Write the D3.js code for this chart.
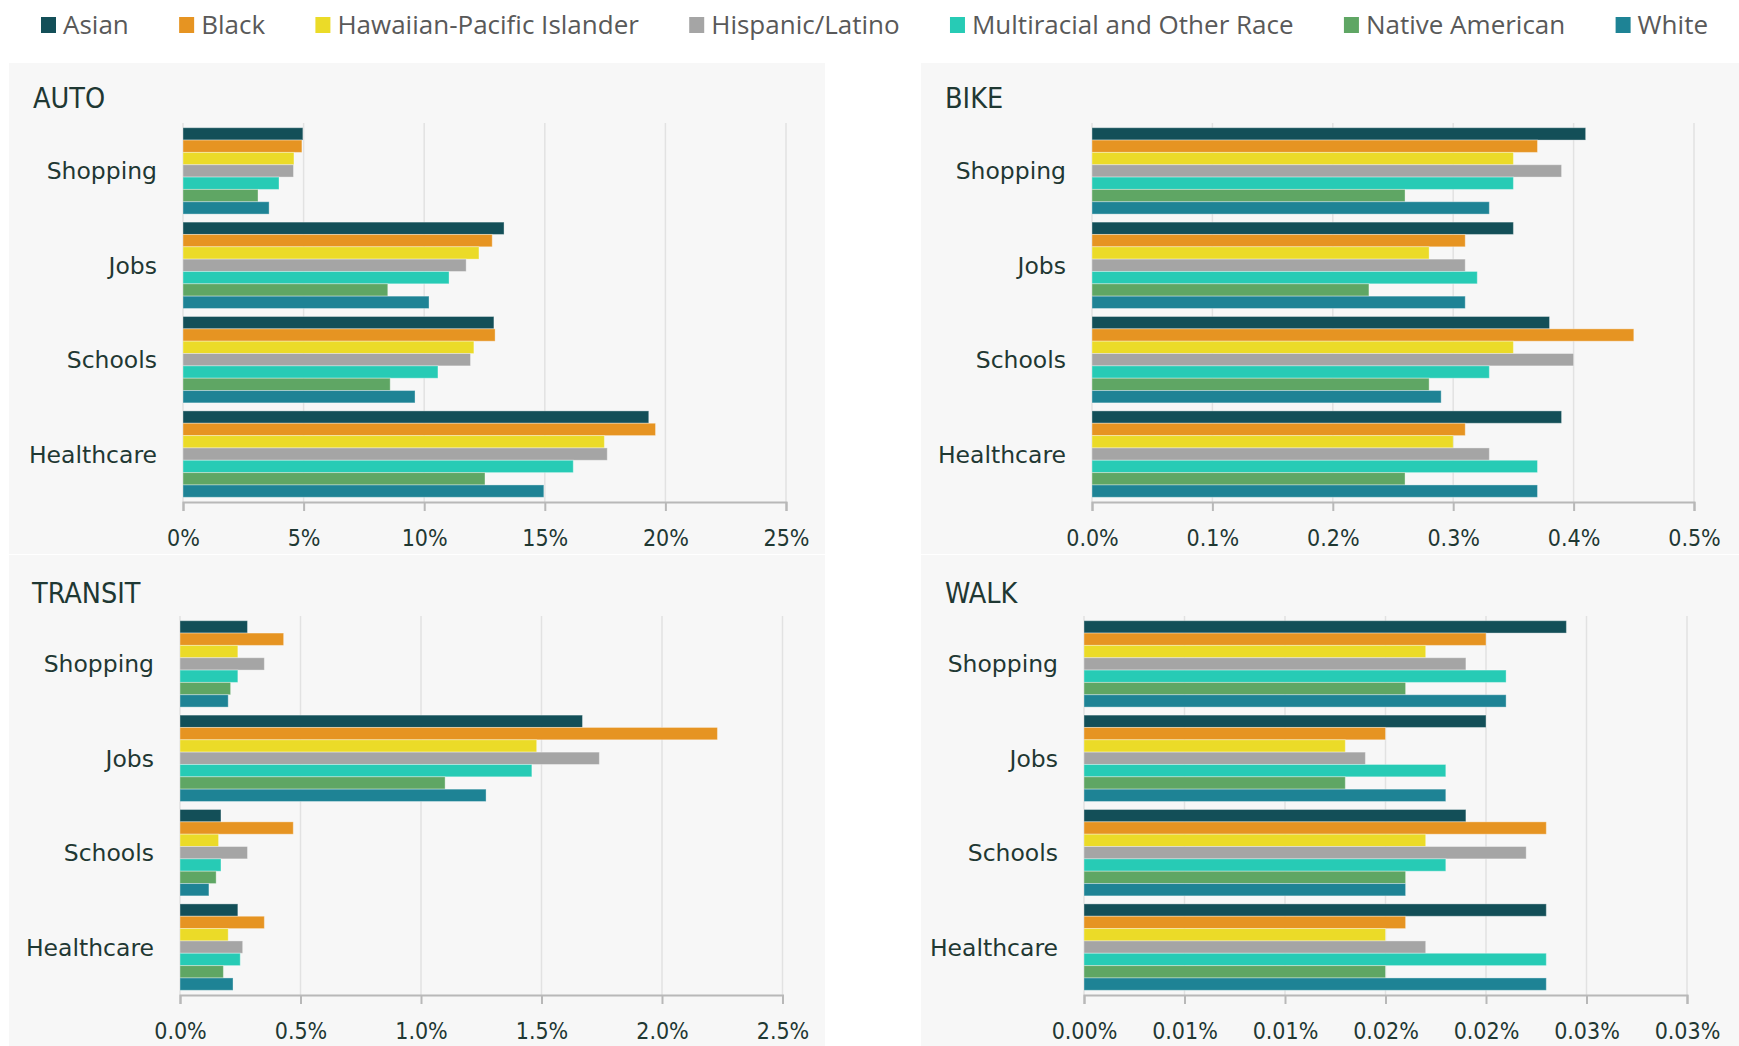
<!DOCTYPE html>
<html>
<head>
<meta charset="utf-8">
<script src="https://cdn.jsdelivr.net/npm/d3@7"></script>
<style>
  body { margin: 0; background: #fff; }
  svg { display: block; }
  .panel-text { fill: #1f3833; }
  .cond { font-family: 'DejaVu Sans Condensed', 'DejaVu Sans', sans-serif; }
  .wide { font-family: 'DejaVu Sans', sans-serif; }
  .legend-text { font-family: 'Open Sans', 'Noto Sans', sans-serif; fill: #595959; }
</style>
</head>
<body>
<svg id="chart" width="1739" height="1046"></svg>
<script>
// Data (percent of population with access)
const categories = ['Shopping', 'Jobs', 'Schools', 'Healthcare'];
const races = ['Asian', 'Black', 'Hawaiian-Pacific Islander', 'Hispanic/Latino',
  'Multiracial and Other Race', 'Native American', 'White'];
const raceColors = ['#134f58', '#e69422', '#ebdb28', '#a5a5a5', '#27cbb5', '#5fa664', '#1e8395'];

// each row = one category, columns follow races order
const autoValues = [
  [4.97, 4.93, 4.60, 4.58, 3.98, 3.11, 3.57],
  [13.31, 12.82, 12.27, 11.74, 11.03, 8.49, 10.20],
  [12.89, 12.94, 12.06, 11.92, 10.57, 8.59, 9.62],
  [19.31, 19.59, 17.47, 17.59, 16.18, 12.52, 14.96]
];
const bikeValues = [
  [0.41, 0.37, 0.35, 0.39, 0.35, 0.26, 0.33],
  [0.35, 0.31, 0.28, 0.31, 0.32, 0.23, 0.31],
  [0.38, 0.45, 0.35, 0.40, 0.33, 0.28, 0.29],
  [0.39, 0.31, 0.30, 0.33, 0.37, 0.26, 0.37]
];
const transitValues = [
  [0.28, 0.43, 0.24, 0.35, 0.24, 0.21, 0.20],
  [1.67, 2.23, 1.48, 1.74, 1.46, 1.10, 1.27],
  [0.17, 0.47, 0.16, 0.28, 0.17, 0.15, 0.12],
  [0.24, 0.35, 0.20, 0.26, 0.25, 0.18, 0.22]
];
const walkValues = [
  [0.0240, 0.0200, 0.0170, 0.0190, 0.0210, 0.0160, 0.0210],
  [0.0200, 0.0150, 0.0130, 0.0140, 0.0180, 0.0130, 0.0180],
  [0.0190, 0.0230, 0.0170, 0.0220, 0.0180, 0.0160, 0.0160],
  [0.0230, 0.0160, 0.0150, 0.0170, 0.0230, 0.0150, 0.0230]
];

// Axis ticks
const autoTicks = [0, 5, 10, 15, 20, 25];
const autoTickLabels = ['0%', '5%', '10%', '15%', '20%', '25%'];
const bikeTicks = [0, 0.1, 0.2, 0.3, 0.4, 0.5];
const bikeTickLabels = ['0.0%', '0.1%', '0.2%', '0.3%', '0.4%', '0.5%'];
const transitTicks = [0, 0.5, 1, 1.5, 2, 2.5];
const transitTickLabels = ['0.0%', '0.5%', '1.0%', '1.5%', '2.0%', '2.5%'];
const walkTicks = [0, 0.005, 0.01, 0.015, 0.02, 0.025, 0.03];
const walkTickLabels = ['0.00%', '0.01%', '0.01%', '0.02%', '0.02%', '0.03%', '0.03%'];

const panels = [
  { title: 'AUTO', values: autoValues, ticks: autoTicks, tickLabels: autoTickLabels,
    bg: [9, 63, 816, 491], titleX: 33, titleY: 108, x0: 183, x1: 786, y0: 123, y1: 502, labelX: 157 },
  { title: 'BIKE', values: bikeValues, ticks: bikeTicks, tickLabels: bikeTickLabels,
    bg: [921, 63, 818, 491], titleX: 945, titleY: 108, x0: 1092, x1: 1694, y0: 123, y1: 502, labelX: 1066 },
  { title: 'TRANSIT', values: transitValues, ticks: transitTicks, tickLabels: transitTickLabels,
    bg: [9, 555, 816, 491], titleX: 32, titleY: 603, x0: 180, x1: 782.5, y0: 616, y1: 995, labelX: 154 },
  { title: 'WALK', values: walkValues, ticks: walkTicks, tickLabels: walkTickLabels,
    bg: [921, 555, 818, 491], titleX: 945, titleY: 603, x0: 1084, x1: 1687, y0: 616, y1: 995, labelX: 1058 }
];

const svg = d3.select('#chart');
const color = d3.scaleOrdinal().domain(races).range(raceColors);

// Legend
const legend = svg.append('g');
const items = legend.selectAll('g').data(races).enter().append('g');
items.append('rect')
  .attr('width', 15).attr('height', 16)
  .attr('y', 17)
  .attr('fill', d => color(d));
items.append('text')
  .attr('class', 'legend-text')
  .attr('x', 22).attr('y', 25)
  .attr('dy', '0.35em')
  .style('font-size', '26px')
  .text(d => d);

const widths = [];
items.each(function() { widths.push(this.querySelector('text').getComputedTextLength() + 22); });
const legendStart = 41, legendEnd = 1708;
const gap = (legendEnd - legendStart - d3.sum(widths)) / (races.length - 1);
let lx = legendStart;
items.attr('transform', (d, i) => {
  const t = `translate(${lx},0)`;
  lx += widths[i] + gap;
  return t;
});

// Panels
panels.forEach(p => {
  const g = svg.append('g');

  g.append('rect')
    .attr('x', p.bg[0]).attr('y', p.bg[1])
    .attr('width', p.bg[2]).attr('height', p.bg[3])
    .attr('fill', '#f7f7f7');

  g.append('text')
    .attr('class', 'panel-text cond')
    .attr('x', p.titleX).attr('y', p.titleY)
    .style('font-size', '28.5px')
    .text(p.title);

  const x = d3.scaleLinear()
    .domain([0, p.ticks[p.ticks.length - 1]])
    .range([p.x0, p.x1]);

  const y = d3.scaleBand()
    .domain(categories)
    .range([p.y0, p.y1])
    .paddingInner(0.085)
    .paddingOuter(0.05);

  const yInner = d3.scaleBand()
    .domain(races)
    .range([0, y.bandwidth()]);

  // gridlines
  g.append('g')
    .selectAll('line')
    .data(p.ticks)
    .enter()
    .append('line')
    .attr('x1', d => x(d)).attr('x2', d => x(d))
    .attr('y1', p.y0).attr('y2', p.y1)
    .attr('stroke', '#e2e2e2')
    .attr('stroke-width', 1.5);

  // bars
  const groups = g.append('g')
    .selectAll('g')
    .data(categories)
    .enter()
    .append('g')
    .attr('transform', d => `translate(0,${y(d)})`);

  groups.selectAll('rect')
    .data((d, i) => p.values[i].map((v, j) => ({ race: races[j], value: v })))
    .enter()
    .append('rect')
    .attr('x', x(0))
    .attr('y', d => yInner(d.race))
    .attr('width', d => x(d.value) - x(0))
    .attr('height', yInner.bandwidth())
    .attr('fill', d => color(d.race))
    .attr('stroke', 'rgba(255,255,255,0.35)')
    .attr('stroke-width', 1);

  // category labels
  g.append('g')
    .selectAll('text')
    .data(categories)
    .enter()
    .append('text')
    .attr('class', 'panel-text wide')
    .attr('x', p.labelX)
    .attr('y', d => y(d) + y.bandwidth() / 2)
    .attr('dy', '0.36em')
    .attr('text-anchor', 'end')
    .style('font-size', '23.5px')
    .text(d => d);

  // x axis
  const axis = g.append('g')
    .attr('transform', `translate(0,${p.y1})`)
    .call(d3.axisBottom(x)
      .tickValues(p.ticks)
      .tickFormat((d, i) => p.tickLabels[i])
      .tickSize(9)
      .tickPadding(18.5));

  axis.select('.domain').attr('stroke', '#b8b8b8').attr('stroke-width', 2);
  axis.selectAll('.tick line').attr('stroke', '#b8b8b8').attr('stroke-width', 2);
  axis.selectAll('.tick text')
    .attr('class', 'panel-text cond')
    .attr('fill', null)
    .style('font-size', '23px');
  axis.attr('font-family', null).attr('font-size', null);
});
</script>
</body>
</html>
